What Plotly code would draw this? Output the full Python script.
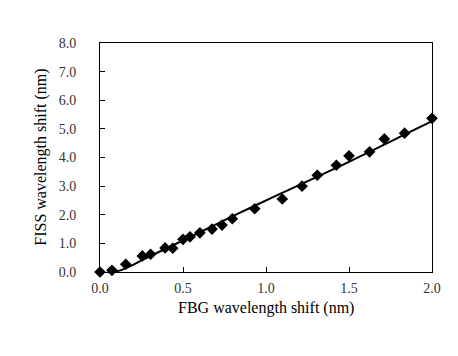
import plotly.graph_objects as go

# measured data (FBG shift vs FISS shift, nm)
fbg_shift = [0.0, 0.072, 0.155, 0.255, 0.305, 0.392, 0.438, 0.5, 0.542, 0.602,
             0.675, 0.735, 0.797, 0.932, 1.098, 1.217, 1.309, 1.424, 1.5, 1.624,
             1.713, 1.835, 2.0]
fiss_shift = [0.0, 0.06, 0.27, 0.56, 0.62, 0.84, 0.83, 1.14, 1.23, 1.37,
              1.50, 1.64, 1.86, 2.21, 2.55, 3.00, 3.38, 3.73, 4.06, 4.20,
              4.65, 4.85, 5.37]

# trend line
fit_x = [0.09, 0.15, 0.3, 0.5, 0.8, 1.1, 1.5, 1.8, 2.0]
fit_y = [0.0, 0.12, 0.55, 1.1, 1.95, 2.77, 3.85, 4.7, 5.27]

x_ticks = [0.0, 0.5, 1.0, 1.5, 2.0]
y_ticks = [0, 1, 2, 3, 4, 5, 6, 7, 8]

x_title = "FBG wavelength shift (nm)"
y_title = "FISS wavelength shift (nm)"

font = "Liberation Serif, Times New Roman, serif"

fig = go.Figure()
fig.add_trace(go.Scatter(x=fit_x, y=fit_y, mode="lines", line=dict(color="black", width=2, shape="spline"),
                         showlegend=False, hoverinfo="skip"))
fig.add_trace(go.Scatter(x=fbg_shift, y=fiss_shift, mode="markers",
                         marker=dict(symbol="diamond", size=9, color="black"),
                         cliponaxis=False, showlegend=False))

fig.update_layout(
    width=458, height=356,
    margin=dict(l=92, r=34, t=35, b=92),
    paper_bgcolor="white", plot_bgcolor="white",
    font=dict(family=font, size=13, color="black"),
    annotations=[
        dict(text=x_title, xref="paper", yref="paper", x=0.5, y=-0.158,
             xanchor="center", yanchor="middle", showarrow=False,
             font=dict(size=16, color="black")),
        dict(text=y_title, xref="paper", yref="paper", x=-0.18, y=0.5, textangle=-90,
             xanchor="center", yanchor="middle", showarrow=False,
             font=dict(size=16, color="black")),
    ],
)
fig.update_xaxes(range=[0, 2], tickvals=x_ticks, ticktext=[f"{v:.1f}" for v in x_ticks],
                 showgrid=False, zeroline=False, showline=True, linecolor="black", linewidth=1,
                 mirror=True, ticks="inside", ticklen=5, tickcolor="black",
                 tickfont=dict(size=14, color="#333333"), ticklabelstandoff=3)
fig.update_yaxes(range=[0, 8], tickvals=y_ticks, ticktext=[f"{v:.1f}" for v in y_ticks],
                 showgrid=False, zeroline=False, showline=True, linecolor="black", linewidth=1,
                 mirror=True, ticks="inside", ticklen=5, tickcolor="black",
                 tickfont=dict(size=14, color="#333333"), ticklabelstandoff=20)

fig.write_html("out.html")
